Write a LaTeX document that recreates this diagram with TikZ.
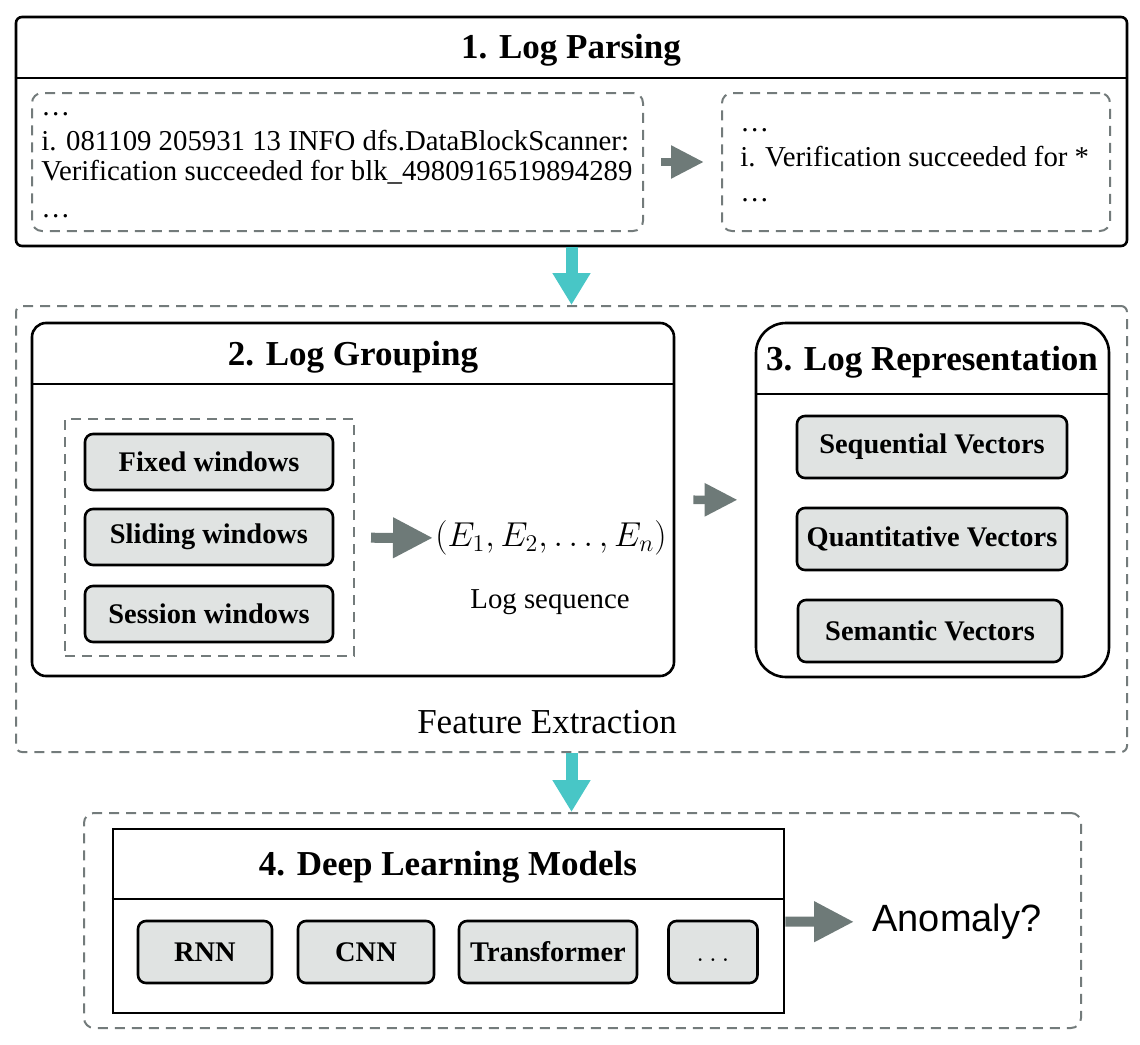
\documentclass[tikz,border=0pt]{standalone}
\usepackage{fontspec}
\setmainfont{Liberation Serif}
\newfontfamily\anomfont{Liberation Sans}
\usetikzlibrary{arrows.meta,fit}
\definecolor{dashgray}{RGB}{115,123,123}
\definecolor{arrowgray}{RGB}{110,122,120}
\definecolor{boxgray}{RGB}{224,227,226}
\definecolor{tealarr}{RGB}{72,198,198}

\begin{document}
\begin{tikzpicture}[x=0.5pt, y=-0.5pt,
		frame/.style={draw, line width=1.3pt, inner sep=0pt},
		dashbox/.style={draw=dashgray, line width=1pt, dash pattern=on 5pt off 3.5pt, inner sep=0pt},
		itembox/.style={draw, line width=1.3pt, fill=boxgray, rounded corners=4pt, minimum height=29pt, font=\fontsize{14.2}{16}\selectfont\bfseries},
		title/.style={font=\fontsize{17.5}{20}\selectfont\bfseries},
		logtext/.style={anchor=base west, inner sep=0pt, font=\fontsize{14.4}{16}\selectfont},
		grayarrow/.style={draw=arrowgray, line width=5pt, -{Triangle[length=20pt,width=19pt]}},
		smallarrow/.style={draw=arrowgray, line width=4.3pt, -{Triangle[length=16.5pt,width=15.5pt]}},
		tealarrow/.style={draw=tealarr, line width=6pt, -{Triangle[length=16pt,width=18pt]}}]
		\useasboundingbox (0,0) rectangle (1140,1044);

		% 1. Log Parsing
		\node[frame, rounded corners=3pt, fit={(16,17)(1127,246)}] (parse) {};
		\coordinate (parsesep) at (0,78);
		\draw[line width=1.3pt] (parse.west |- parsesep) -- (parse.east |- parsesep);
		\node[title] (parsetitle) at (571,50) {1. Log Parsing};
		\node[dashbox, rounded corners=5pt, fit={(32,93)(643,231)}] (raw) {};
		\node[dashbox, rounded corners=5pt, fit={(722,93)(1110,231)}] (tmpl) {};
		\node[logtext] (raw1) at (41,115) {…};
		\node[logtext] (raw2) at (41,150) {i. 081109 205931 13 INFO dfs.DataBlockScanner:};
		\node[logtext] (raw3) at (41,180) {Verification succeeded for blk\_4980916519894289};
		\node[logtext] (raw4) at (41,217) {…};
		\node[logtext] (tmpl1) at (740,131) {…};
		\node[logtext] (tmpl2) at (740,166) {i. Verification succeeded for *};
		\node[logtext] (tmpl3) at (740,201) {…};
		\draw[smallarrow, shorten <=8.5pt, shorten >=8.5pt] (raw) -- (tmpl);

		% Feature Extraction
		\node[dashbox, rounded corners=3pt, fit={(16,306)(1127,752)}] (feat) {};
		\node[font=\fontsize{17.5}{20}\selectfont] (featlabel) at (547,722) {Feature Extraction};
		\draw[tealarrow] (parse) -- (feat);

		% 2. Log Grouping
		\node[frame, rounded corners=7pt, fit={(32,323)(674,676)}] (group) {};
		\coordinate (groupsep) at (0,384);
		\draw[line width=1.3pt] (group.west |- groupsep) -- (group.east |- groupsep);
		\node[title] (grouptitle) at (353,357) {2. Log Grouping};
		\node[dashbox, fit={(65,419)(354,656)}] (win) {};
		\node[itembox, minimum width=124pt, minimum height=28pt] (fixed) at (209,462) {Fixed windows};
		\node[itembox, minimum width=124pt, minimum height=28pt] (sliding) at (209,537) {Sliding windows};
		\node[itembox, minimum width=124pt, minimum height=28pt] (session) at (209,614) {Session windows};
		\node[anchor=west, inner sep=1pt, font=\fontsize{16.5}{18}\selectfont] (seq) at (433,538) {$(E_1,E_2,\ldots,E_n)$};
		\node[font=\fontsize{14.4}{16}\selectfont] (seqlabel) at (550,602) {Log sequence};
		\draw[grayarrow, shorten <=8pt] (win) -- (seq);

		% 3. Log Representation
		\node[frame, rounded corners=15pt, fit={(756,323)(1109,677)}] (repr) {};
		\coordinate (reprsep) at (0,394);
		\draw[line width=1.3pt] (repr.west |- reprsep) -- (repr.east |- reprsep);
		\node[title] (reprtitle) at (932,362) {3. Log Representation};
		\node[itembox, minimum width=135pt, minimum height=31pt] (seqvec) at (932,447) {Sequential Vectors};
		\node[itembox, minimum width=135pt, minimum height=31pt] (quantvec) at (932,539) {Quantitative Vectors};
		\node[itembox, minimum width=132pt, minimum height=31pt] (semvec) at (930,631) {Semantic Vectors};
		\draw[smallarrow, shorten <=9pt, shorten >=8.5pt] (group) -- (repr);

		% 4. Deep Learning Models
		\node[dashbox, rounded corners=5pt, fit={(84,813)(1081,1028)}] (dlwrap) {};
		\draw[tealarrow] (feat) -- (feat |- dlwrap.north);
		\node[frame, fit={(113,829)(784,1013)}] (dl) {};
		\coordinate (dlsep) at (0,899);
		\draw[line width=1.3pt] (dl.west |- dlsep) -- (dl.east |- dlsep);
		\node[title] (dltitle) at (448,867) {4. Deep Learning Models};
		\node[itembox, minimum width=67pt, minimum height=31pt] (rnn) at (205,952) {RNN};
		\node[itembox, minimum width=68pt, minimum height=31pt] (cnn) at (366,952) {CNN};
		\node[itembox, minimum width=89pt, minimum height=31pt] (trans) at (548,952) {Transformer};
		\node[itembox, minimum width=44.5pt, minimum height=31pt, font=\fontsize{14.2}{16}\selectfont] (more) at (713,952) {\vphantom{RNN}$\dots$};
		\node[inner sep=0pt, font=\anomfont\fontsize{19}{22}\selectfont] (anomaly) at (957,922) {Anomaly?};
		\draw[grayarrow, shorten >=9pt] (dl) -- (anomaly);

	\end{tikzpicture}
\end{document}
